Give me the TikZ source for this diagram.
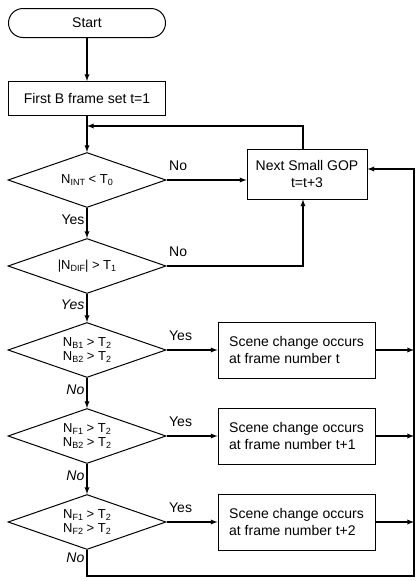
\documentclass[tikz,border=0pt]{standalone}
\usepackage{fontspec}
\setmainfont{Liberation Sans}
\usetikzlibrary{shapes.geometric, positioning}
\usetikzlibrary{calc,arrows}

\newcommand{\lowsub}[1]{\raisebox{-0.35ex}{\fontsize{9}{9}\selectfont #1}}

\begin{document}
\begin{tikzpicture}[x=1pt, y=-1pt, ->, >=latex, line width=1.3pt,
node distance = 30pt and 51pt,
every node/.style = {font=\fontsize{14}{16.5}\selectfont},
term/.style = {draw, line width=1pt, rounded corners=14.5pt,
	minimum width=157pt, minimum height=29pt},
box/.style = {draw, line width=1pt, minimum width=157pt, minimum height=34pt},
test/.style = {draw, line width=1pt, diamond, aspect=2.9,
	minimum width=158pt, minimum height=55pt, inner sep=0pt, align=center,
	font=\fontsize{13}{14}\selectfont},
scene/.style = {box, minimum height=56pt, align=left},
lbl/.style = {inner sep=2pt},
ilbl/.style = {lbl, left, pos=0.4, font=\fontsize{14}{16.5}\selectfont\itshape},
ylbl/.style = {lbl, at start, anchor=south west, yshift=7pt}
]
\useasboundingbox (0,0) rectangle (416,581);
% Main column
\node[term] (start) at (87,23) {Start};
\node[box, below=43pt of start] (init) {First B frame set t=1};
\node[test, below=36pt of init] (t-int) {N\lowsub{INT} < T\lowsub{0}};
\node[test, below=of t-int] (t-dif) {|N\lowsub{DIF}| > T\lowsub{1}};
\node[test, below=28pt of t-dif] (t-bb) {N\lowsub{B1} > T\lowsub{2}\\N\lowsub{B2} > T\lowsub{2}};
\node[test, below=of t-bb] (t-fb) {N\lowsub{F1} > T\lowsub{2}\\N\lowsub{B2} > T\lowsub{2}};
\node[test, below=of t-fb] (t-ff) {N\lowsub{F1} > T\lowsub{2}\\N\lowsub{F2} > T\lowsub{2}};
% Right column
\node[box, minimum width=120pt, minimum height=50pt, align=center] (gop) at (307,174)
	{Next Small GOP\\t=t+3};
\node[scene, right=of t-bb] (sc-0) {Scene change occurs\\at frame number t};
\node[scene, right=of t-fb] (sc-1) {Scene change occurs\\at frame number t+1};
\node[scene, right=of t-ff] (sc-2) {Scene change occurs\\at frame number t+2};
\coordinate (loop) at (87,126);
\coordinate (bus-bot) at (414,576);
\coordinate (bus-top) at (414,169);

% Connect the main column
\draw (start) -- (init);
\draw (init) -- (t-int);
\draw (t-int) -- node[lbl, left, pos=0.4] {Yes} (t-dif);
\draw (t-dif) -- node[ilbl] {Yes} (t-bb);
\draw (t-bb) -- node[ilbl] {No} (t-fb);
\draw (t-fb) -- node[ilbl] {No} (t-ff);

% No branches to the next small GOP
\draw (t-int) -- node[ylbl] {No} (t-int -| gop.west);
\draw (t-dif) -| node[ylbl] {No} ([xshift=-4pt]gop.south);
\draw ([xshift=-4pt]gop.north) |- (loop);

% Scene changes to the bus
\foreach \i/\t in {0/bb,1/fb,2/ff}
{
	\draw (t-\t) -- node[ylbl] {Yes} (sc-\i);
	\draw (sc-\i) -- (sc-\i -| bus-bot);
}
\draw (t-ff) -- node[ilbl, pos=0.3] {No}
	(t-ff |- bus-bot) -- (bus-bot) -- (bus-top) -- (bus-top -| gop.east);
\end{tikzpicture}
\end{document}
